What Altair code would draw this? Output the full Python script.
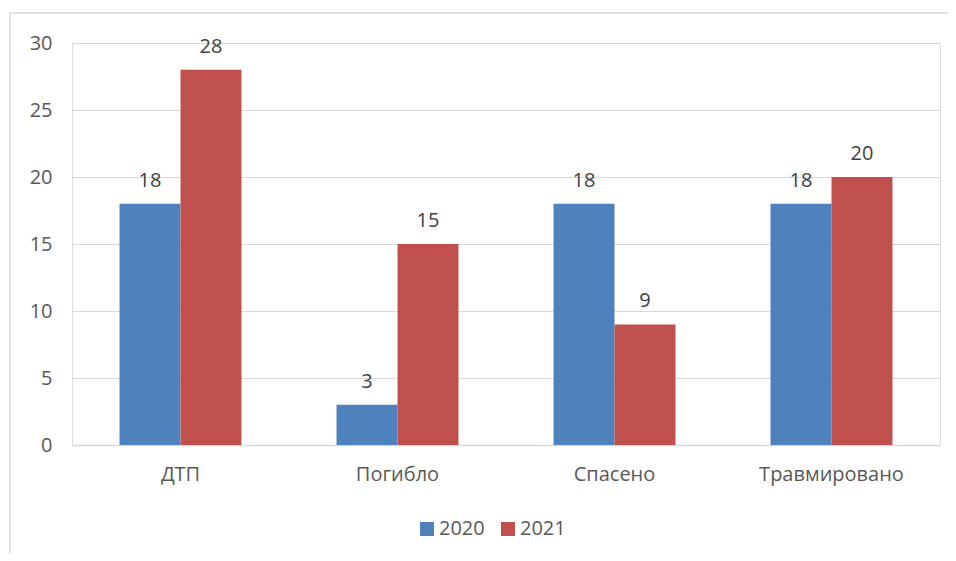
import altair as alt
import pandas as pd

categories = ["ДТП", "Погибло", "Спасено", "Травмировано"]
years = ["2020", "2021"]
values_2020 = [18, 3, 18, 18]
values_2021 = [28, 15, 9, 20]
colors = ["#4F81BD", "#C0504D"]

rows = []
for c, a, b in zip(categories, values_2020, values_2021):
    rows.append({"cat": c, "year": "2020", "value": a})
    rows.append({"cat": c, "year": "2021", "value": b})
df = pd.DataFrame(rows)

FONT = "Open Sans"
TXT = "#595959"
FS = 20

base = alt.Chart(df).encode(
    x=alt.X("cat:N", sort=categories, title=None,
            scale=alt.Scale(paddingInner=0.438, paddingOuter=0.219),
            axis=alt.Axis(labelAngle=0, labelFontSize=FS, labelColor=TXT, labelFont=FONT,
                          labelPadding=19, ticks=False, domainColor="#D9D9D9", domainWidth=1.5)),
    xOffset=alt.XOffset("year:N", sort=years),
)

bars = base.mark_bar().encode(
    y=alt.Y("value:Q", title=None,
            scale=alt.Scale(domain=[0, 30], nice=False),
            axis=alt.Axis(values=[0, 5, 10, 15, 20, 25, 30], labelFontSize=FS, labelColor=TXT,
                          labelFont=FONT, labelPadding=20, ticks=False, domain=False,
                          gridColor="#D9D9D9", gridWidth=1)),
    color=alt.Color("year:N", sort=years, scale=alt.Scale(domain=years, range=colors),
                    legend=alt.Legend(title=None, orient="none", direction="horizontal",
                                      legendX=345, legendY=476, symbolType="square",
                                      symbolSize=196, symbolStrokeWidth=0, labelFontSize=FS,
                                      labelColor=TXT, labelFont=FONT, columnPadding=13,
                                      labelOffset=2)),
)

labels = base.mark_text(dy=-23, fontSize=FS, font=FONT, color="#404040").encode(
    y="value:Q",
    text="value:Q",
)

frame = alt.Chart(pd.DataFrame({"a": [0]})).mark_rect(
    fill=None, stroke="#D9D9D9", strokeWidth=1.5
).encode(
    x=alt.value(-62), x2=alt.value(1000), y=alt.value(-30), y2=alt.value(700)
)

chart = alt.layer(bars, labels, frame).properties(
    width=868, height=402,
    autosize=alt.AutoSizeParams(type="none"),
    padding={"left": 64, "top": 35, "right": 8, "bottom": 108},
).configure_view(stroke=None).configure(background="white")

chart.save("out.html", embed_options={"renderer": "svg", "actions": False})
